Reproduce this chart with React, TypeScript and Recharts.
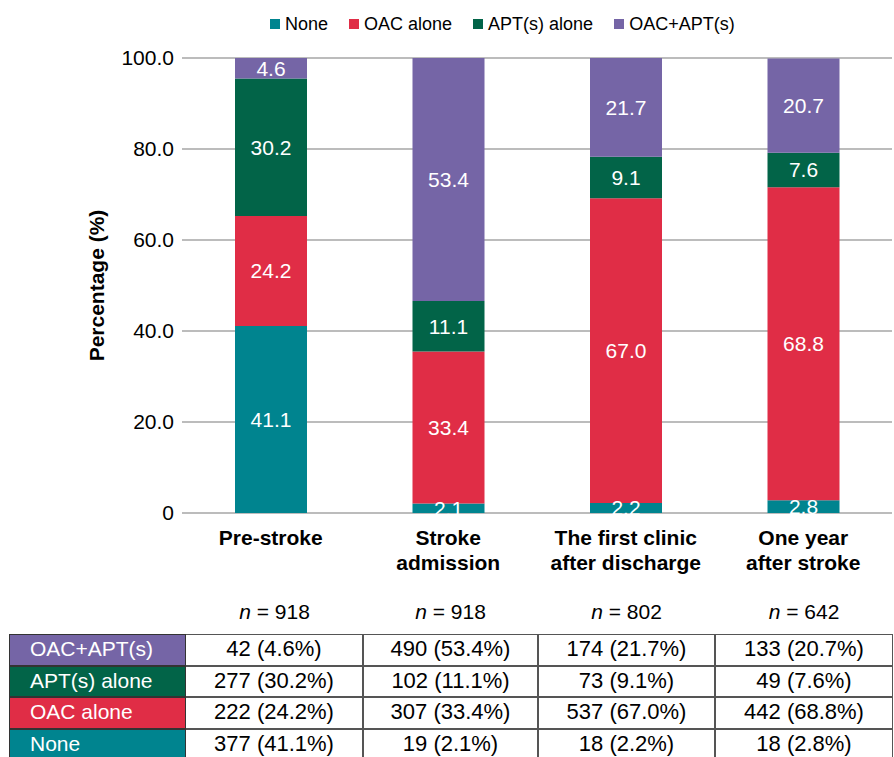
import React from "react";
import { BarChart, Bar, XAxis, YAxis, CartesianGrid, LabelList } from "recharts";

const categories = ["Pre-stroke", "Stroke\nadmission", "The first clinic\nafter discharge", "One year\nafter stroke"];
const nValues = [918, 918, 802, 642];

const nonePct = [41.1, 2.1, 2.2, 2.8];
const oacPct = [24.2, 33.4, 67.0, 68.8];
const aptPct = [30.2, 11.1, 9.1, 7.6];
const comboPct = [4.6, 53.4, 21.7, 20.7];

const noneCount = [377, 19, 18, 18];
const oacCount = [222, 307, 537, 442];
const aptCount = [277, 102, 73, 49];
const comboCount = [42, 490, 174, 133];

const yTicks = [0, 20, 40, 60, 80, 100];

const COLORS = {
  none: "#00848f",
  oac: "#e02d46",
  apt: "#026448",
  combo: "#7565a6",
};

const seriesDefs = [
  { key: "none", name: "None", color: COLORS.none, pct: nonePct, count: noneCount },
  { key: "oac", name: "OAC alone", color: COLORS.oac, pct: oacPct, count: oacCount },
  { key: "apt", name: "APT(s) alone", color: COLORS.apt, pct: aptPct, count: aptCount },
  { key: "combo", name: "OAC+APT(s)", color: COLORS.combo, pct: comboPct, count: comboCount },
];

const data = categories.map((c, i) => ({
  cat: c,
  none: nonePct[i],
  oac: oacPct[i],
  apt: aptPct[i],
  combo: comboPct[i],
}));

const FONT = "'Liberation Sans', Arial, sans-serif";

const XTick = (props: any) => {
  const { x, y, payload } = props;
  const lines = String(payload.value).split("\n");
  return (
    <text x={x} y={y + 24} textAnchor="middle" fontWeight="bold" fontSize={21} fill="#000" fontFamily={FONT}>
      {lines.map((l, i) => (
        <tspan key={i} x={x} dy={i === 0 ? 0 : 25}>
          {l}
        </tspan>
      ))}
    </text>
  );
};

const colLefts = [9, 186, 363, 538, 715];
const colWidths = [177, 177, 175, 177, 178];
const tableTop = 634;
const rowH = 31.7;
const tableRows = [seriesDefs[3], seriesDefs[2], seriesDefs[1], seriesDefs[0]];

export default function App() {
  return (
    <div style={{ position: "absolute", left: 0, top: 0, width: 894, height: 757, background: "#fff", overflow: "hidden", fontFamily: FONT }}>
      <div style={{ position: "absolute", left: 270, top: 13, display: "flex", alignItems: "center", fontSize: 18, color: "#000", lineHeight: "22px" }}>
        {seriesDefs.map((s, i) => (
          <div key={s.key} style={{ display: "flex", alignItems: "center", marginLeft: i === 0 ? 0 : 21 }}>
            <div style={{ width: 10, height: 10, background: s.color, marginRight: 5 }} />
            <span>{s.name}</span>
          </div>
        ))}
      </div>
      <BarChart
        width={894}
        height={600}
        data={data}
        margin={{ top: 58, right: 2, left: 0, bottom: 0 }}
        barSize={72}
      >
        <CartesianGrid vertical={false} stroke="#a6a6a6" strokeWidth={1.5} />
        <XAxis dataKey="cat" axisLine={false} tickLine={false} tick={<XTick />} height={87} interval={0} />
        <YAxis
          width={182}
          domain={[0, 100]}
          allowDataOverflow
          ticks={yTicks}
          axisLine={false}
          tickLine={false}
          tick={{ fontSize: 21, fill: "#000", fontFamily: FONT }}
          tickFormatter={(v: number) => (v === 0 ? "0" : v.toFixed(1))}
          label={{ value: "Percentage (%)", angle: -90, position: "center", dx: 6, fontSize: 21, fontWeight: "bold", fill: "#000", fontFamily: FONT }}
        />
        {seriesDefs.map((s) => (
          <Bar key={s.key} dataKey={s.key} name={s.name} stackId="a" fill={s.color} isAnimationActive={false}>
            <LabelList
              dataKey={s.key}
              position="center"
              fill="#fff"
              fontSize={21}
              fontFamily={FONT}
              formatter={(v: any) => Number(v).toFixed(1)}
            />
          </Bar>
        ))}
      </BarChart>
      {nValues.map((n, i) => (
        <div
          key={"n" + i}
          style={{ position: "absolute", left: colLefts[i + 1], width: colWidths[i + 1], top: 600, textAlign: "center", fontSize: 21, color: "#000" }}
        >
          <i>n</i> = {n}
        </div>
      ))}
      {tableRows.map((s, r) => (
        <React.Fragment key={s.key}>
          <div
            style={{
              position: "absolute",
              left: colLefts[0],
              top: tableTop + r * rowH,
              width: colWidths[0],
              height: rowH,
              background: s.color,
              color: "#fff",
              fontSize: 21,
              boxSizing: "border-box",
              border: "1.5px solid #333",
              paddingLeft: 20,
              lineHeight: rowH - 3 + "px",
            }}
          >
            {s.name}
          </div>
          {s.count.map((c, i) => (
            <div
              key={i}
              style={{
                position: "absolute",
                left: colLefts[i + 1],
                top: tableTop + r * rowH,
                width: colWidths[i + 1],
                height: rowH,
                color: "#000",
                fontSize: 22,
                boxSizing: "border-box",
                border: "1.5px solid #555",
                borderLeft: i === 0 ? "none" : "1.5px solid #555",
                textAlign: "center",
                lineHeight: rowH - 3 + "px",
              }}
            >
              {c} ({s.pct[i].toFixed(1)}%)
            </div>
          ))}
        </React.Fragment>
      ))}
    </div>
  );
}
